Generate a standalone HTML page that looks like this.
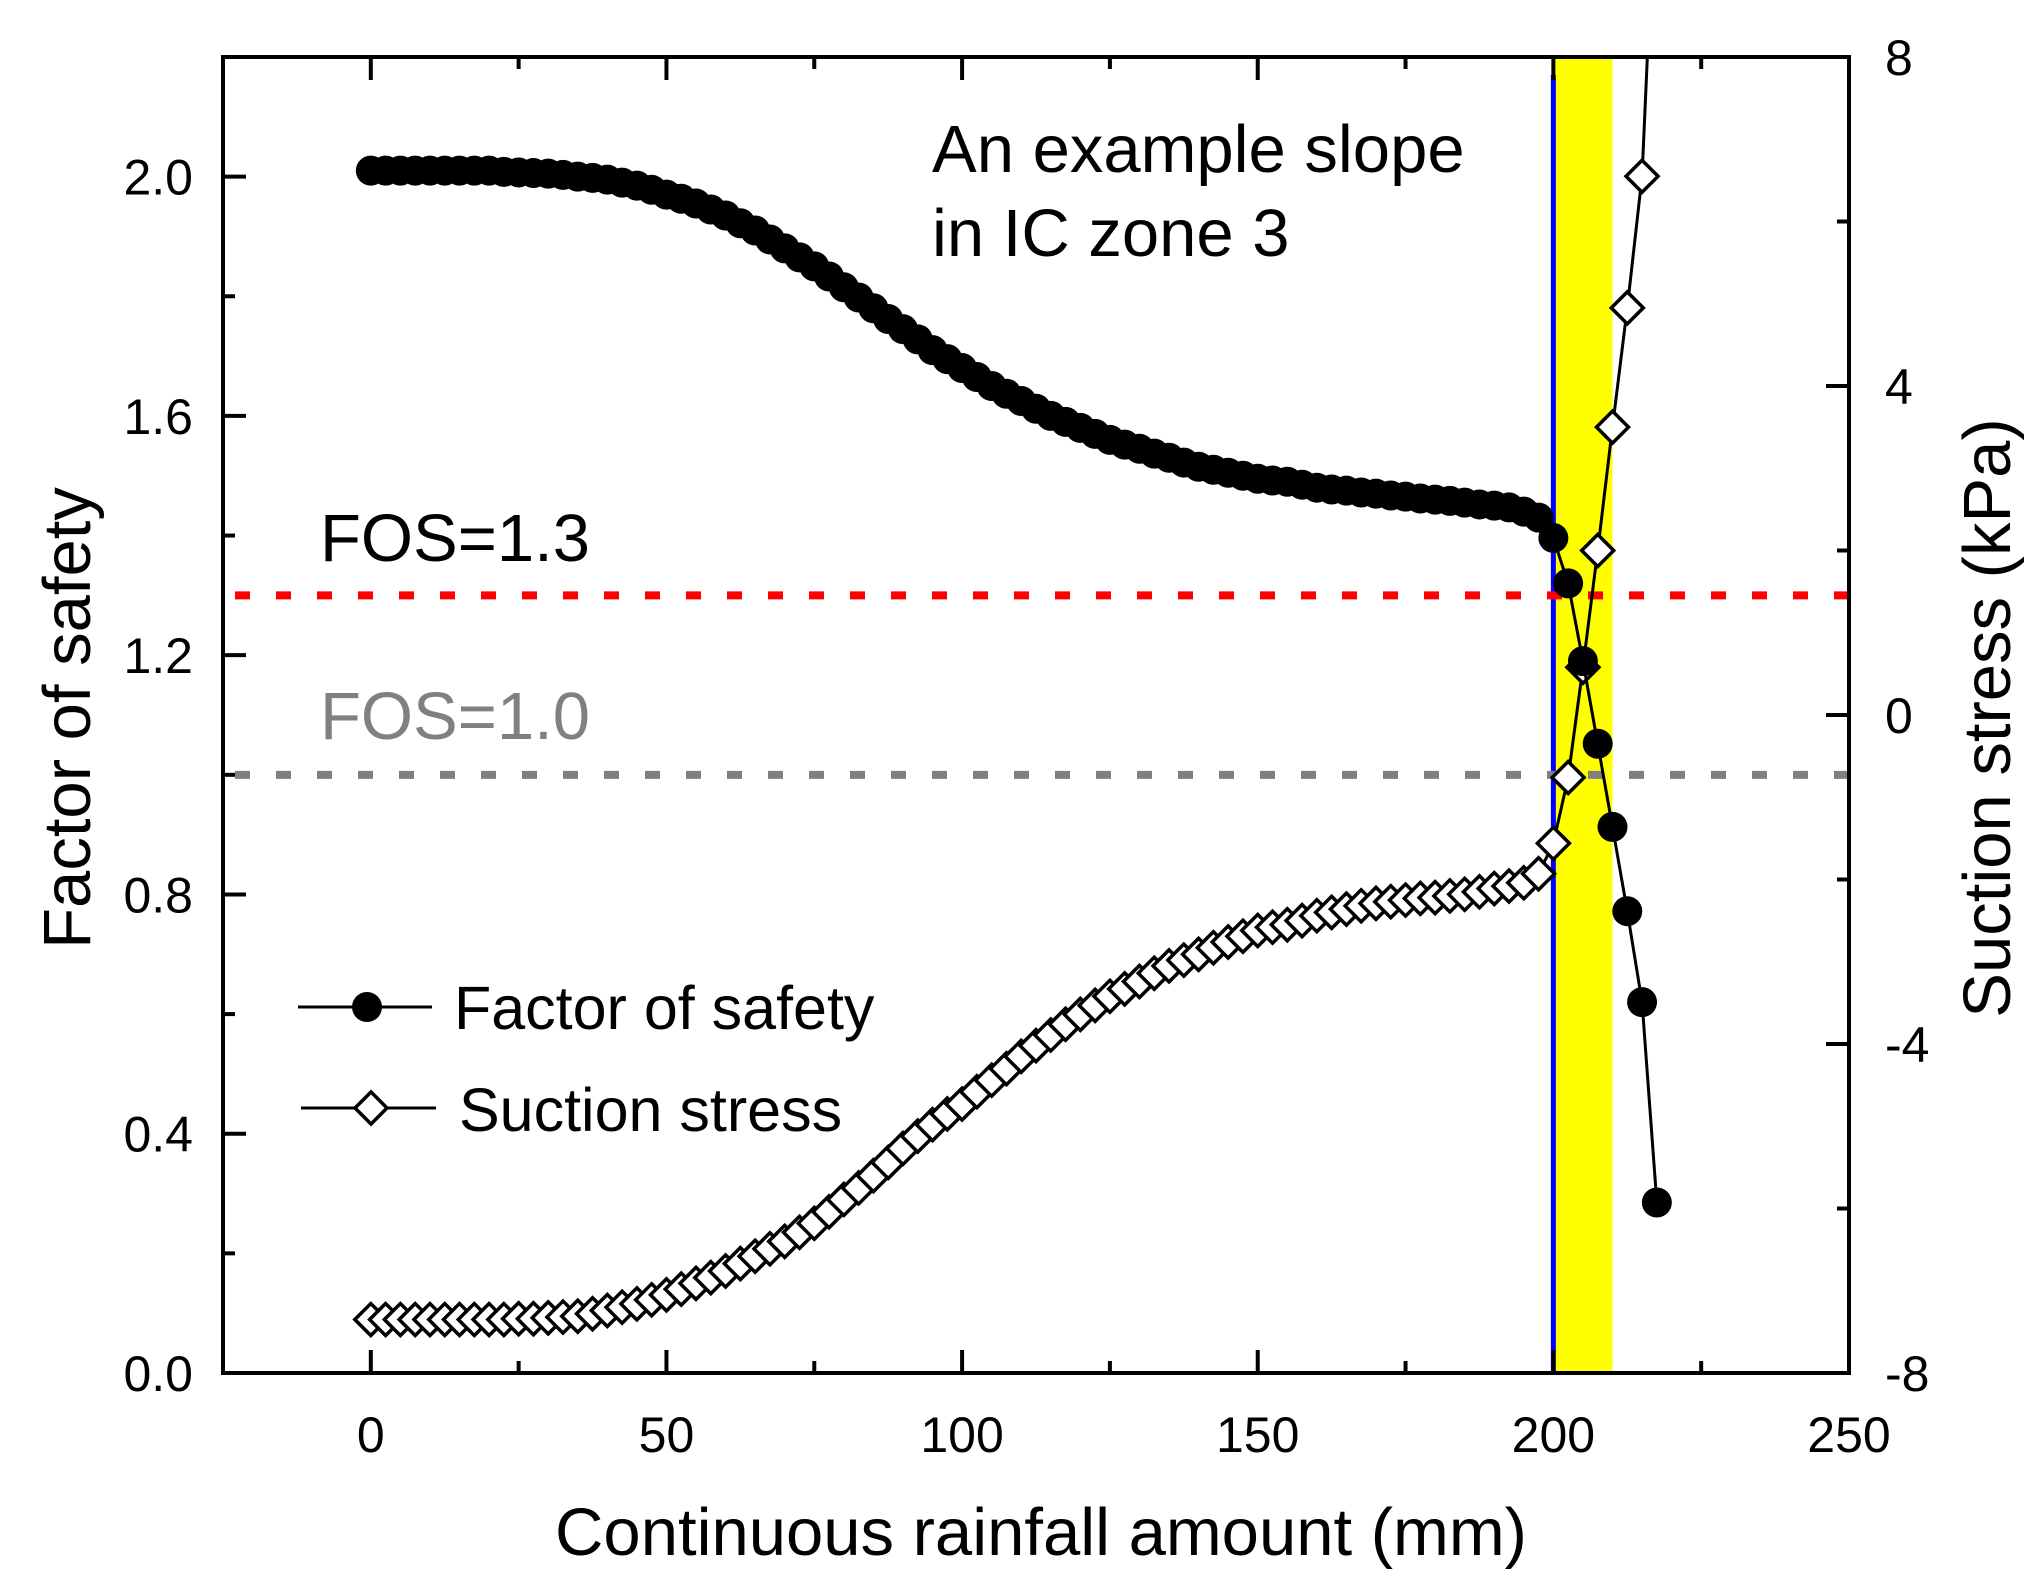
<!DOCTYPE html>
<html><head><meta charset="utf-8"><style>
html,body{margin:0;padding:0;background:#fff;}
svg{display:block;font-family:"Liberation Sans",Arial,sans-serif;}
</style></head><body>
<svg id="chart" width="2044" height="1595" viewBox="0 0 2044 1595" xmlns="http://www.w3.org/2000/svg">
<g id="plot"></g>
</svg>
<script>
const fosX = [0,2.5,5,7.5,10,12.5,15,17.5,20,22.5,25,27.5,30,32.5,35,37.5,40,42.5,45,47.5,50,52.5,55,57.5,60,62.5,65,67.5,70,72.5,75,77.5,80,82.5,85,87.5,90,92.5,95,97.5,100,102.5,105,107.5,110,112.5,115,117.5,120,122.5,125,127.5,130,132.5,135,137.5,140,142.5,145,147.5,150,152.5,155,157.5,160,162.5,165,167.5,170,172.5,175,177.5,180,182.5,185,187.5,190,192.5,195,197.5,200,202.5,205,207.5,210,212.5,215,217.5];
const fosY = [2.01,2.01,2.01,2.01,2.01,2.01,2.01,2.01,2.01,2.008,2.007,2.006,2.005,2.003,2.0,1.998,1.995,1.99,1.985,1.978,1.97,1.963,1.955,1.945,1.935,1.922,1.91,1.895,1.88,1.865,1.85,1.833,1.815,1.798,1.78,1.762,1.745,1.728,1.71,1.695,1.68,1.665,1.65,1.637,1.625,1.612,1.6,1.59,1.58,1.57,1.56,1.552,1.545,1.537,1.53,1.522,1.515,1.51,1.505,1.5,1.495,1.492,1.49,1.485,1.48,1.477,1.475,1.472,1.47,1.467,1.465,1.462,1.46,1.458,1.455,1.452,1.45,1.447,1.44,1.43,1.396,1.32,1.19,1.052,0.913,0.772,0.62,0.285];
const sucX = [0,2.5,5,7.5,10,12.5,15,17.5,20,22.5,25,27.5,30,32.5,35,37.5,40,42.5,45,47.5,50,52.5,55,57.5,60,62.5,65,67.5,70,72.5,75,77.5,80,82.5,85,87.5,90,92.5,95,97.5,100,102.5,105,107.5,110,112.5,115,117.5,120,122.5,125,127.5,130,132.5,135,137.5,140,142.5,145,147.5,150,152.5,155,157.5,160,162.5,165,167.5,170,172.5,175,177.5,180,182.5,185,187.5,190,192.5,195,197.5,200,202.5,205,207.5,210,212.5,215];
const sucY = [-7.35,-7.35,-7.35,-7.35,-7.35,-7.35,-7.35,-7.35,-7.35,-7.35,-7.34,-7.34,-7.33,-7.32,-7.31,-7.28,-7.24,-7.2,-7.16,-7.11,-7.05,-6.98,-6.91,-6.84,-6.76,-6.67,-6.58,-6.49,-6.4,-6.29,-6.18,-6.04,-5.89,-5.75,-5.6,-5.44,-5.27,-5.12,-4.98,-4.85,-4.73,-4.58,-4.44,-4.3,-4.15,-4.02,-3.89,-3.76,-3.64,-3.53,-3.42,-3.33,-3.24,-3.14,-3.05,-2.98,-2.91,-2.83,-2.76,-2.69,-2.62,-2.58,-2.55,-2.5,-2.44,-2.4,-2.36,-2.32,-2.29,-2.27,-2.25,-2.23,-2.22,-2.2,-2.18,-2.15,-2.11,-2.08,-2.04,-1.93,-1.56,-0.76,0.58,2.0,3.5,4.95,6.55];
const sucTailX = [215,217.5];
const sucTailY = [6.55,10.6];
const xTicks = [0,50,100,150,200,250];
const yLTicks = [0.0,0.4,0.8,1.2,1.6,2.0];
const yLTickLabels = ["0.0","0.4","0.8","1.2","1.6","2.0"];
const yRTicks = [-8,-4,0,4,8];
const yRTickLabels = ["-8","-4","0","4","8"];
const fosLines = [1.3,1.0];
const bandRange = [200,210];

const L=223,R=1849,T=57,B=1373;
const X=v=>L+(v+25)/275*(R-L);
const YL=v=>B-v/2.2*(B-T);
const YR=v=>B-(v+8)/16*(B-T);
const NS="http://www.w3.org/2000/svg";
const g=document.getElementById('plot');
function mk(t,a,p){const e=document.createElementNS(NS,t);for(const k in a)e.setAttribute(k,a[k]);(p||g).appendChild(e);return e;}

const defs=mk('defs',{});
const cp=mk('clipPath',{id:'clip'},defs);
mk('rect',{x:L,y:T,width:R-L,height:B-T},cp);

let band=mk('rect',{x:X(bandRange[0]),y:T,width:X(bandRange[1])-X(bandRange[0]),height:B-T,fill:'#ffff00'});


let bl=mk('line',{x1:X(bandRange[0]),x2:X(bandRange[0]),y1:T+18,y2:B,stroke:'#0000ff','stroke-width':5});



const fosColors=['#ff0000','#808080'];
fosLines.forEach((v,i)=>{
  const l=mk('line',{x1:L+12,x2:R,y1:YL(v),y2:YL(v),stroke:fosColors[i],'stroke-width':8,'stroke-dasharray':'15 26'});
  
  
});

const sg=mk('g',{'clip-path':'url(#clip)'});


let pts=sucX.map((x,i)=>X(x)+','+YR(sucY[i])).join(' ')+' '+sucTailX.map((x,i)=>X(x)+','+YR(sucTailY[i])).join(' ');
mk('polyline',{points:pts,fill:'none',stroke:'#000','stroke-width':3},sg);
sucX.forEach((x,i)=>{const cx=X(x),cy=YR(sucY[i]),s=16;
  const d=mk('polygon',{points:`${cx-s},${cy} ${cx},${cy-s} ${cx+s},${cy} ${cx},${cy+s}`,fill:'#fff',stroke:'#000','stroke-width':3.5},sg);
  
  
});

const fg=mk('g',{});


mk('polyline',{points:fosX.map((x,i)=>X(x)+','+YL(fosY[i])).join(' '),fill:'none',stroke:'#000','stroke-width':3},fg);
fosX.forEach((x,i)=>{const c=mk('circle',{cx:X(x),cy:YL(fosY[i]),r:15,fill:'#000'},fg);
  
  
});

let fr=mk('rect',{x:L,y:T,width:R-L,height:B-T,fill:'none',stroke:'#000','stroke-width':4});



for(let v=-25;v<=250;v+=25){const maj=v%50===0,len=maj?23:12;
  mk('line',{x1:X(v),x2:X(v),y1:B,y2:B-len,stroke:'#000','stroke-width':4});
  mk('line',{x1:X(v),x2:X(v),y1:T,y2:T+len,stroke:'#000','stroke-width':4});}
xTicks.forEach(v=>{const t=mk('text',{x:X(v),y:1452,'font-size':50,'text-anchor':'middle'});t.textContent=v;
  
  });
for(let v=0;v<=2.2001;v+=0.2){const maj=Math.round(v*10)%4===0,len=maj?23:12;
  mk('line',{x1:L,x2:L+len,y1:YL(v),y2:YL(v),stroke:'#000','stroke-width':4});}
yLTicks.forEach((v,i)=>{const t=mk('text',{x:193,y:YL(v)+18,'font-size':50,'text-anchor':'end'});t.textContent=yLTickLabels[i];
  
  });
for(let v=-8;v<=8;v+=2){const maj=v%4===0,len=maj?23:12;
  mk('line',{x1:R,x2:R-len,y1:YR(v),y2:YR(v),stroke:'#000','stroke-width':4});}
yRTicks.forEach((v,i)=>{const t=mk('text',{x:1885,y:YR(v)+18,'font-size':50,'text-anchor':'start'});t.textContent=yRTickLabels[i];
  
  });
</script>
<svg style="position:absolute;left:0;top:0" width="2044" height="1595" viewBox="0 0 2044 1595" xmlns="http://www.w3.org/2000/svg" font-family="Liberation Sans, Arial, sans-serif">
<text x="1041" y="1555" font-size="67" text-anchor="middle">Continuous rainfall amount (mm)</text>
<text transform="translate(90,718) rotate(-90)" font-size="67" text-anchor="middle">Factor of safety</text>
<text transform="translate(2010,718) rotate(-90)" font-size="67" text-anchor="middle">Suction stress (kPa)</text>
<text x="932" y="172" font-size="67">An example slope</text>
<text x="932" y="256" font-size="67">in IC zone 3</text>
<text x="320" y="561" font-size="67">FOS=1.3</text>
<text x="320" y="739" font-size="67" fill="#808080">FOS=1.0</text>
<g>
<line x1="298" y1="1007" x2="432" y2="1007" stroke="#000" stroke-width="3"/>
<circle cx="367" cy="1007" r="15" fill="#000"/>
<text x="454" y="1029" font-size="61">Factor of safety</text>
<line x1="301" y1="1108" x2="436" y2="1108" stroke="#000" stroke-width="3"/>
<polygon points="355,1108 371,1092 387,1108 371,1124" fill="#fff" stroke="#000" stroke-width="3.5"/>
<text x="459" y="1131" font-size="61">Suction stress</text>
</g>
</svg>
</body></html>
